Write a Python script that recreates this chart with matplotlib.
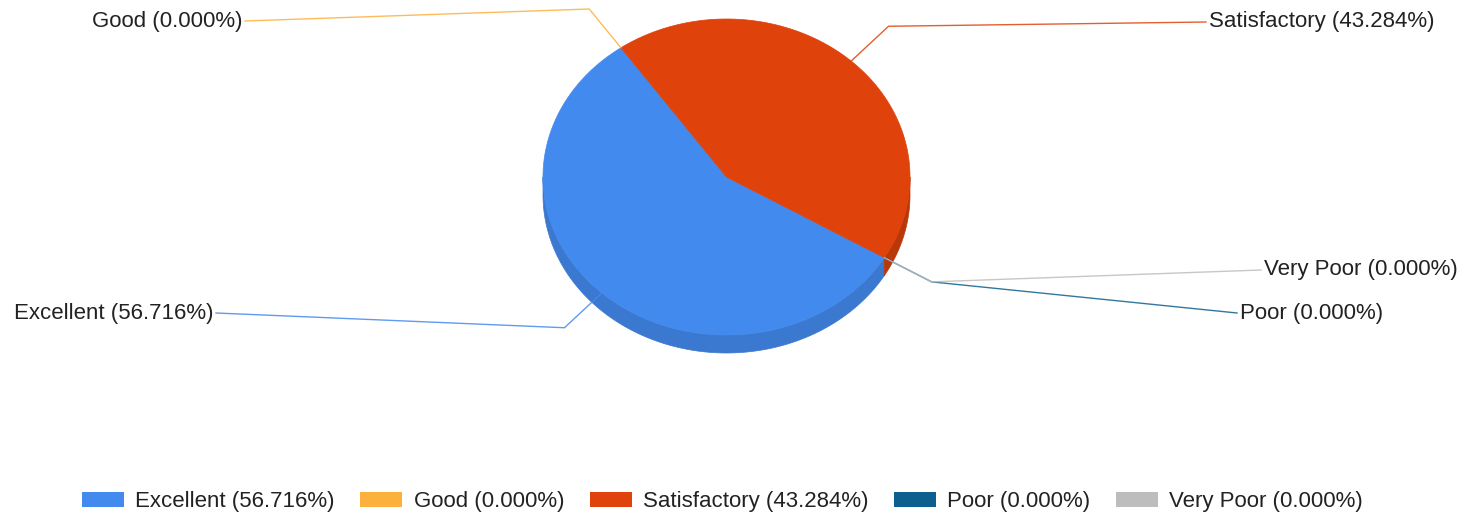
import numpy as np
from matplotlib import pyplot as plt
from matplotlib.patches import Polygon

plt.rcParams['font.family'] = ['Liberation Sans', 'DejaVu Sans']

# data
categories = ["Excellent", "Good", "Satisfactory", "Poor", "Very Poor"]
percent = [56.716, 0.0, 43.284, 0.0, 0.0]
colors = ["#438AEE", "#FDB13D", "#DF420B", "#0D5F8D", "#BDBDBD"]
side_colors = ["#3B78CF", "#F0A030", "#B9380A", "#0A4D72", "#9E9E9E"]

# layout (pixels, origin top-left)
W, H = 1467, 521
cx, cy = 726.5, 177.0
rx, ry = 183.5, 158.0
depth = 18.0
start_angle = -30.7  # degrees, slices run clockwise
elbow_k = 1.3
label_pos = {
    "Excellent": (213, 313, "right"),
    "Good": (242, 21, "right"),
    "Satisfactory": (1209, 22, "left"),
    "Poor": (1240, 313, "left"),
    "Very Poor": (1264, 270, "left"),
}


def ell(theta_deg, dy=0.0):
    t = np.radians(theta_deg)
    return cx + rx * np.cos(t), cy - ry * np.sin(t) + dy


fig = plt.figure(figsize=(W / 100, H / 100), dpi=100)
ax = fig.add_axes([0, 0, 1, 1])
ax.set_xlim(0, W)
ax.set_ylim(H, 0)
ax.axis("off")

# slice angles, clockwise from start
vals = np.array(percent)
spans = vals / vals.sum() * 360.0
ends = start_angle + 360.0 - np.concatenate([[0], np.cumsum(spans)[:-1]])
starts = ends - spans  # each slice goes from starts (low) to ends (high)

# side walls (front half only: 180..360 deg)
for i in range(len(vals)):
    if spans[i] <= 0:
        continue
    a0, a1 = starts[i] % 360, (starts[i] % 360) + spans[i]
    for off in (0, 360, -360):
        lo = max(a0 + off, 180)
        hi = min(a1 + off, 360)
        if hi > lo:
            th = np.linspace(lo, hi, 120)
            xt, yt = ell(th)
            xb, yb = ell(th[::-1], depth)
            pts = np.column_stack([np.concatenate([xt, xb]), np.concatenate([yt, yb])])
            ax.add_patch(Polygon(pts, closed=True, fc=side_colors[i], ec=side_colors[i], lw=0.5))

# top face
for i in range(len(vals)):
    if spans[i] <= 0:
        continue
    th = np.linspace(starts[i], ends[i], 300)
    xs, ys = ell(th)
    pts = np.column_stack([np.concatenate([[cx], xs]), np.concatenate([[cy], ys])])
    ax.add_patch(Polygon(pts, closed=True, fc=colors[i], ec=colors[i], lw=0.5))

# leader lines and labels
for i, name in enumerate(categories):
    mid = (starts[i] + ends[i]) / 2.0
    ax_, ay_ = ell(mid)
    ex, ey = cx + elbow_k * (ax_ - cx), cy + elbow_k * (ay_ - cy)
    lx, ly, ha = label_pos[name]
    tx = lx + 3 if ha == "right" else lx - 3
    ax.plot([ax_, ex, tx], [ay_, ey, ly], color=colors[i], lw=1.0, alpha=0.85,
            solid_joinstyle="miter")
    ax.text(lx, ly, "%s (%.3f%%)" % (name, percent[i]), ha=ha, va="center",
            fontsize=16, color="#222222")

# legend
handles = [plt.Rectangle((0, 0), 1, 1, fc=c, ec="none") for c in colors]
labels = ["%s (%.3f%%)" % (n, p) for n, p in zip(categories, percent)]
fig.legend(handles, labels, loc="center", bbox_to_anchor=(0.4925, 19 / H), ncol=5,
           frameon=False, fontsize=16, handlelength=1.9, handleheight=0.63,
           handletextpad=0.5, columnspacing=1.15, labelcolor="#222222")

fig.savefig("out.png", dpi=100)
